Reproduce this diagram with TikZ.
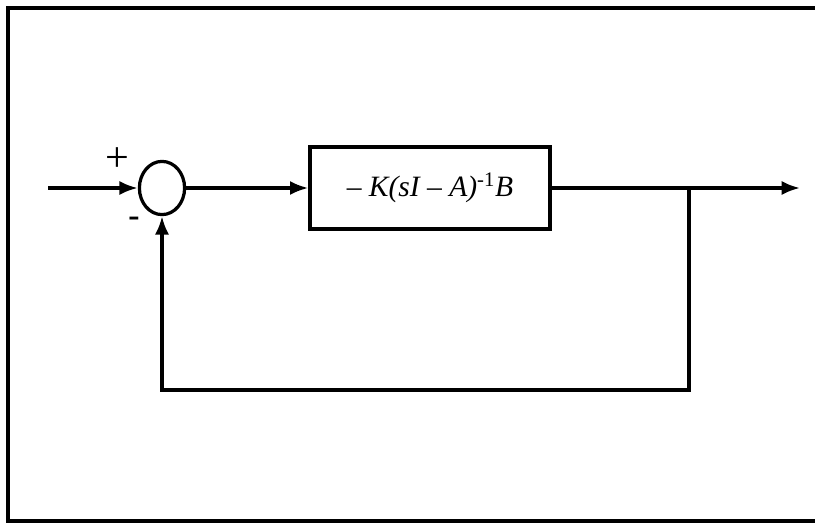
\documentclass[tikz,border=0pt]{standalone}
\usepackage{fontspec}
\setmainfont{Liberation Serif}
\usetikzlibrary{arrows.meta,shapes.geometric}

\tikzset{
  sumnode/.style={draw, ellipse, minimum width=1.13cm, minimum height=1.33cm, inner sep=0pt},
  plantbox/.style={draw, rectangle, minimum width=6cm, minimum height=2.05cm,
    font=\fontsize{21}{21}\selectfont\itshape},
  signal/.style={-{Latex[length=13pt,width=10pt]}}
}

\begin{document}
\begin{tikzpicture}[x=0.025cm, y=-0.025cm, line width=2.3pt]
    \useasboundingbox (0,0) rectangle (815,526);

    % Frame
    \draw (815,8) -- (8,8) -- (8,521) -- (815,521);

    % Blocks
    \node[sumnode] (sum) at (162,188) {};
    \node[plantbox] (plant) at (430,188) {-- K(sI -- A)\textsuperscript{\upshape-1}B};

    % Free ends of the signals
    \coordinate (in) at (48,188);
    \coordinate (out) at (800,188);
    \coordinate (branch) at (689,188);
    \coordinate (fbcorner) at (689,390);

    % Signals
    \draw[signal] (in) -- (sum);
    \draw[signal] (sum) -- (plant);
    \draw[signal] (plant) -- (out);
    \draw[signal] (branch) -- (fbcorner) -| (sum);

    % Signs
    \node[font=\fontsize{30}{30}\selectfont] (plus) at (117,160) {+};
    \node[font=\fontsize{24}{24}\selectfont\bfseries] (minus) at (134,222) {-};
\end{tikzpicture}
\end{document}
